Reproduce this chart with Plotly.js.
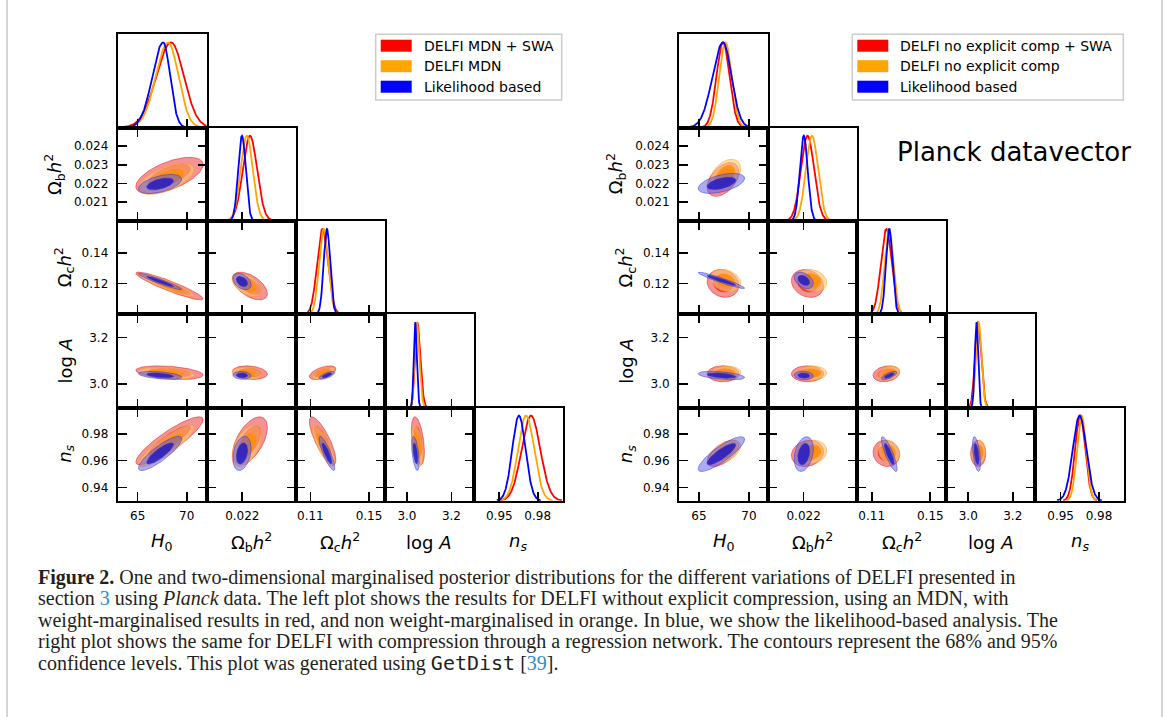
<!DOCTYPE html>
<html><head><meta charset="utf-8">
<script src="https://cdn.plot.ly/plotly-3.0.1.min.js"></script>
<style>html,body{margin:0;padding:0;background:#fff}#chart{width:1170px;height:717px}</style>
</head><body><div id="chart"></div>
<script>
// ================= DATA =================
// parameter order: H0, Omega_b h^2, Omega_c h^2, log A, n_s
const paramLabels = ['<i>H</i><sub>0</sub>', 'Ω<sub>b</sub><i>h</i><sup>2</sup>', 'Ω<sub>c</sub><i>h</i><sup>2</sup>', 'log <i>A</i>', '<i>n</i><sub><i>s</i></sub>'];
const xTickVals = [[65, 70], [0.022], [0.11, 0.15], [3.0, 3.2], [0.95, 0.98]];
const xTickText = [['65', '70'], ['0.022'], ['0.11', '0.15'], ['3.0', '3.2'], ['0.95', '0.98']];
const yTickVals = [[], [0.021, 0.022, 0.023, 0.024], [0.12, 0.14], [3.0, 3.2], [0.94, 0.96, 0.98]];
const yTickText = [[], ['0.021', '0.022', '0.023', '0.024'], ['0.12', '0.14'], ['3.0', '3.2'], ['0.94', '0.96', '0.98']];
const leftRanges = [[62.97, 72.03], [0.0200, 0.0250], [0.1000, 0.1607], [2.90, 3.30], [0.9300, 0.9995]];
const rightRanges = [[63.0, 71.9], [0.0200, 0.0250], [0.1000, 0.1607], [2.90, 3.30], [0.9300, 0.9995]];

// correlation order: H0-Ob, H0-Oc, H0-logA, H0-ns, Ob-Oc, Ob-logA, Ob-ns, Oc-logA, Oc-ns, logA-ns
// ---- left plot ----
const leftNames = ['DELFI MDN + SWA', 'DELFI MDN', 'Likelihood based'];
const leftSwaMode = [68.4, 0.02243, 0.1182, 3.046, 0.9747];
const leftSwaSdLo = [1.5, 0.00040, 0.0036, 0.010, 0.0073];
const leftSwaSdHi = [1.3, 0.00040, 0.0038, 0.014, 0.0073];
const leftSwaCorr = [0.6, -0.92, -0.35, 0.88, -0.55, -0.2, 0.55, 0.55, -0.8, -0.45];
const leftMdnMode = [68.1, 0.02225, 0.1191, 3.044, 0.9709];
const leftMdnSdLo = [1.25, 0.00034, 0.0031, 0.009, 0.0063];
const leftMdnSdHi = [1.05, 0.00034, 0.0031, 0.012, 0.0063];
const leftMdnCorr = [0.6, -0.92, -0.35, 0.87, -0.5, -0.2, 0.5, 0.55, -0.8, -0.4];
const leftLikMode = [67.6, 0.02198, 0.1213, 3.037, 0.9653];
const leftLikSdLo = [1.1, 0.00021, 0.0022, 0.0065, 0.0052];
const leftLikSdHi = [0.7, 0.00021, 0.0022, 0.0075, 0.0052];
const leftLikCorr = [0.5, -0.95, -0.45, 0.85, -0.4, -0.1, 0.3, 0.7, -0.85, -0.5];
// ---- right plot ----
const rightNames = ['DELFI no explicit comp + SWA', 'DELFI no explicit comp', 'Likelihood based'];
const rightSwaMode = [67.4, 0.02222, 0.1200, 3.043, 0.9653];
const rightSwaSdLo = [0.65, 0.00037, 0.0037, 0.013, 0.0040];
const rightSwaSdHi = [0.65, 0.00037, 0.0037, 0.015, 0.0040];
const rightSwaCorr = [0.45, -0.15, 0.0, 0.6, -0.2, 0.0, 0.15, 0.2, -0.1, 0.0];
const rightNoSwaMode = [67.65, 0.02247, 0.1219, 3.047, 0.9664];
const rightNoSwaSdLo = [0.62, 0.00034, 0.0030, 0.0125, 0.0036];
const rightNoSwaSdHi = [0.62, 0.00034, 0.0030, 0.0125, 0.0036];
const rightNoSwaCorr = [0.4, -0.25, 0.1, 0.5, -0.2, 0.05, 0.1, 0.3, -0.2, 0.05];
const rightLikMode = [67.4, 0.02201, 0.1220, 3.037, 0.9648];
const rightLikSdLo = [1.05, 0.00022, 0.0022, 0.0075, 0.0053];
const rightLikSdHi = [0.85, 0.00022, 0.0022, 0.0075, 0.0053];
const rightLikCorr = [0.5, -0.95, -0.45, 0.85, -0.4, -0.1, 0.3, 0.7, -0.85, -0.5];

const panelText = 'Planck datavector';
const captionLines = [
  '<b>Figure 2.</b> One and two-dimensional marginalised posterior distributions for the different variations of DELFI presented in',
  'section <span style="color:#2b8ccf">3</span> using <i>Planck</i> data. The left plot shows the results for DELFI without explicit compression, using an MDN, with',
  'weight-marginalised results in red, and non weight-marginalised in orange. In blue, we show the likelihood-based analysis. The',
  'right plot shows the same for DELFI with compression through a regression network. The contours represent the 68% and 95%',
  'confidence levels. This plot was generated using <span style="font-family:\'DejaVu Sans Mono\'">GetDist</span> [<span style="color:#2b8ccf">39</span>].'
];

// ================= STYLE / LAYOUT =================
const W = 1170, H = 717;
const px = x => x / W, py = y => 1 - y / H;
const PW = 89, PH = 93.3, Y0 = 34.3;
const LEFT_X0 = 117.7, RIGHT_X0 = 679;
const R68 = Math.sqrt(2.2789), R95 = Math.sqrt(5.9915);
const styles = [
  {line: '#ff0000', f95: 'rgba(232,40,40,0.5)', f68: 'rgba(225,0,0,0.55)', e: 'rgba(225,0,0,0.45)'},
  {line: '#ffa500', f95: 'rgba(255,196,110,0.6)', f68: 'rgba(255,140,0,0.8)', e: 'rgba(255,150,0,0.45)'},
  {line: '#0000ff', f95: 'rgba(90,90,230,0.5)', f68: 'rgba(25,20,200,0.8)', e: 'rgba(40,40,220,0.45)'}
];
const pairIndex = (a, b) => { let k = 0; for (let p = 0; p < 5; p++) for (let q = p + 1; q < 5; q++) { if (p === a && q === b) return k; k++; } return -1; };

const layout = {
  width: W, height: H, margin: {l: 0, r: 0, t: 0, b: 0},
  paper_bgcolor: '#fff', plot_bgcolor: 'rgba(0,0,0,0)', showlegend: false,
  font: {family: 'DejaVu Sans', size: 12, color: '#000'},
  shapes: [], annotations: []
};
const traces = [];
let axN = 0;

function mkSeries(mode, lo, hi, corr, style) {
  const mean = mode.map((m, k) => m + Math.sqrt(2 / Math.PI) * (hi[k] - lo[k]));
  const sd = lo.map((l, k) => (l + hi[k]) / 2);
  return {mode, lo, hi, corr, mean, sd, style};
}

function ellipse(s, a, b, r) {
  const rho = s.corr[pairIndex(a, b)];
  const xs = [], ys = [];
  for (let k = 0; k <= 120; k++) {
    const t = 2 * Math.PI * k / 120;
    xs.push(s.mean[a] + r * s.sd[a] * Math.cos(t));
    ys.push(s.mean[b] + r * s.sd[b] * (rho * Math.cos(t) + Math.sqrt(1 - rho * rho) * Math.sin(t)));
  }
  return {xs, ys};
}

function addCorner(x0, ranges, series) {
  for (let i = 0; i < 5; i++) for (let j = 0; j <= i; j++) {
    axN++;
    const xa = axN === 1 ? 'x' : 'x' + axN, ya = axN === 1 ? 'y' : 'y' + axN;
    const xk = axN === 1 ? 'xaxis' : 'xaxis' + axN, yk = axN === 1 ? 'yaxis' : 'yaxis' + axN;
    const xd = [px(x0 + j * PW), px(x0 + (j + 1) * PW)];
    const yd = [py(Y0 + (i + 1) * PH), py(Y0 + i * PH)];
    const common = {showline: true, linewidth: 2, linecolor: '#000', showgrid: false, zeroline: false, fixedrange: true,
      tickcolor: '#000', tickwidth: 1.7, ticklen: 9, tickfont: {size: 12, family: 'DejaVu Sans', color: '#000'}};
    layout[xk] = Object.assign({}, common, {domain: xd, anchor: ya, range: ranges[j], tickmode: 'array',
      tickvals: xTickVals[j], ticktext: xTickText[j], showticklabels: i === 4, ticks: 'inside',
      mirror: i === j ? true : 'allticks', ticklabelstandoff: 3});
    if (i === j) {
      layout[yk] = Object.assign({}, common, {domain: yd, anchor: xa, range: [0, 1.095], showticklabels: false, ticks: '', mirror: true});
      series.forEach(s => {
        const xs = [], ys = [];
        const r = ranges[j];
        for (let k = 0; k <= 400; k++) {
          const x = r[0] + (r[1] - r[0]) * k / 400;
          const sg = x < s.mode[j] ? s.lo[j] : s.hi[j];
          const v = Math.exp(-0.5 * Math.pow((x - s.mode[j]) / sg, 2));
          if (v > 0.004) { xs.push(x); ys.push(v); }
        }
        traces.push({type: 'scatter', mode: 'lines', x: xs, y: ys, xaxis: xa, yaxis: ya, hoverinfo: 'skip',
          line: {color: s.style.line, width: 1.8}});
      });
    } else {
      layout[yk] = Object.assign({}, common, {domain: yd, anchor: xa, range: ranges[i], tickmode: 'array',
        tickvals: yTickVals[i], ticktext: yTickText[i], showticklabels: j === 0, ticks: 'inside', mirror: 'allticks', ticklabelstandoff: 5});
      series.forEach(s => {
        [R95, R68].forEach((r, n) => {
          const e = ellipse(s, j, i, r);
          traces.push({type: 'scatter', mode: 'lines', x: e.xs, y: e.ys, xaxis: xa, yaxis: ya, hoverinfo: 'skip',
            fill: 'toself', fillcolor: n === 0 ? s.style.f95 : s.style.f68, line: {color: s.style.e, width: 1}});
        });
      });
    }
  }
  // axis titles
  for (let j = 0; j < 5; j++) {
    layout.annotations.push({xref: 'paper', yref: 'paper', x: px(x0 + (j + 0.5) * PW), y: py(542), text: paramLabels[j],
      showarrow: false, xanchor: 'center', yanchor: 'middle', font: {size: 18, family: 'DejaVu Sans', color: '#000'}});
  }
  const yOff = [0, 63, 54, 52, 52];
  for (let i = 1; i < 5; i++) {
    layout.annotations.push({xref: 'paper', yref: 'paper', x: px(x0 - yOff[i]), y: py(Y0 + (i + 0.5) * PH), text: paramLabels[i],
      showarrow: false, textangle: -90, xanchor: 'center', yanchor: 'middle', font: {size: 18, family: 'DejaVu Sans', color: '#000'}});
  }
}

function addLegend(bx0, bx1, names, series) {
  const by0 = 34.3, by1 = 100;
  layout.shapes.push({type: 'rect', xref: 'paper', yref: 'paper', x0: px(bx0), x1: px(bx1), y0: py(by1), y1: py(by0),
    line: {color: '#cccccc', width: 1.5}, fillcolor: '#ffffff', layer: 'above'});
  names.forEach((nm, k) => {
    const yc = 45.7 + k * 20.5;
    layout.shapes.push({type: 'rect', xref: 'paper', yref: 'paper', x0: px(bx0 + 5), x1: px(bx0 + 36), y0: py(yc + 6), y1: py(yc - 6),
      line: {width: 0}, fillcolor: series[k].style.line, layer: 'above'});
    layout.annotations.push({xref: 'paper', yref: 'paper', x: px(bx0 + 46), y: py(yc), text: nm, showarrow: false,
      xanchor: 'left', yanchor: 'middle', font: {size: 14, family: 'DejaVu Sans', color: '#000'}});
  });
}

const leftSeries = [
  mkSeries(leftSwaMode, leftSwaSdLo, leftSwaSdHi, leftSwaCorr, styles[0]),
  mkSeries(leftMdnMode, leftMdnSdLo, leftMdnSdHi, leftMdnCorr, styles[1]),
  mkSeries(leftLikMode, leftLikSdLo, leftLikSdHi, leftLikCorr, styles[2])
];
const rightSeries = [
  mkSeries(rightSwaMode, rightSwaSdLo, rightSwaSdHi, rightSwaCorr, styles[0]),
  mkSeries(rightNoSwaMode, rightNoSwaSdLo, rightNoSwaSdHi, rightNoSwaCorr, styles[1]),
  mkSeries(rightLikMode, rightLikSdLo, rightLikSdHi, rightLikCorr, styles[2])
];
addCorner(LEFT_X0, leftRanges, leftSeries);
addCorner(RIGHT_X0, rightRanges, rightSeries);
addLegend(375.7, 561.7, leftNames, leftSeries);
addLegend(852.3, 1123.3, rightNames, rightSeries);

layout.annotations.push({xref: 'paper', yref: 'paper', x: px(895), y: py(152), text: panelText, showarrow: false,
  xanchor: 'left', yanchor: 'middle', font: {size: 26, family: 'DejaVu Sans', color: '#000'}});

captionLines.forEach((t, k) => {
  layout.annotations.push({xref: 'paper', yref: 'paper', x: px(36), y: py(577 + k * 21.5), text: t, showarrow: false,
    xanchor: 'left', yanchor: 'middle', font: {size: 20, family: 'Liberation Serif', color: '#231f20'}});
});

// page frame lines
[7, 1162].forEach(xv => layout.shapes.push({type: 'line', xref: 'paper', yref: 'paper', x0: px(xv), x1: px(xv), y0: 0, y1: 1,
  line: {color: '#d4d4d4', width: 2}}));

Plotly.newPlot('chart', traces, layout, {staticPlot: true, displayModeBar: false});
</script>
</body></html>
